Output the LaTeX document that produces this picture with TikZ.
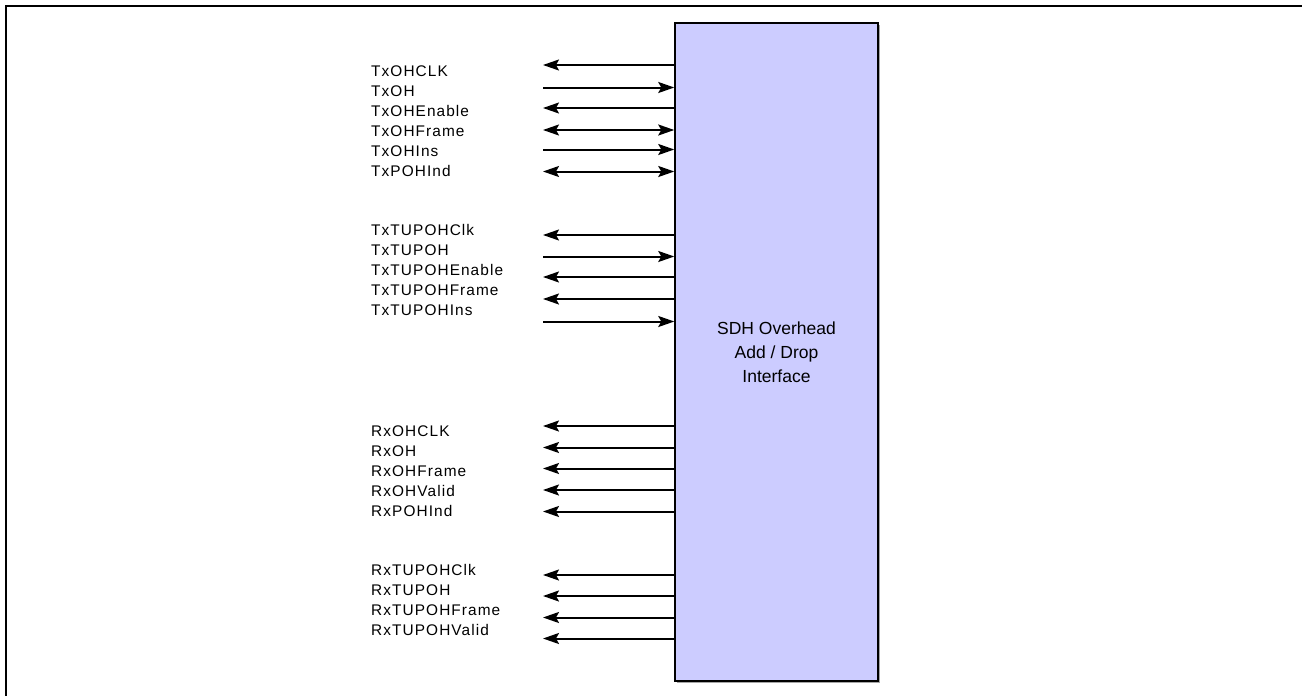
\documentclass[tikz,border=0pt]{standalone}
\usepackage{fontspec}
\setmainfont{Liberation Sans}
\newfontfamily\lblfont{Liberation Sans}[LetterSpace=7]
\newfontfamily\boxfont{Liberation Sans}
\usetikzlibrary{arrows.meta}
\definecolor{boxblue}{HTML}{CCCCFF}
\tikzset{
  sig/.style={font=\lblfont\fontsize{15.4}{18}\selectfont, anchor=base west, inner sep=0pt},
  wire/.style={line width=2pt, draw=black},
  tipin/.style={wire, -{Stealth[length=16pt,width=11pt,inset=3pt]}},
  tipout/.style={wire, {Stealth[length=16pt,width=11pt,inset=3pt]}-},
  tipboth/.style={wire, {Stealth[length=16pt,width=11pt,inset=3pt]}-{Stealth[length=16pt,width=11pt,inset=3pt]}},
  blockbox/.style={draw=black, line width=1.5pt, fill=boxblue, minimum width=203pt, minimum height=658pt, inner sep=0pt, align=center, font=\boxfont\fontsize{17.5}{24}\selectfont},
}
\begin{document}
\begin{tikzpicture}[x=1pt,y=-1pt]
\useasboundingbox (0,0) rectangle (1302,696);
% frame
\draw[line width=2.3pt] (6.2,700) -- (6.2,6.2) -- (1310,6.2);
% shadow
\fill[gray!70] (677,25) rectangle (880,683);
\node[blockbox] (blk) at (776.5,352) {SDH Overhead\\Add / Drop\\Interface};
\def\xl{543}
\foreach \nm/\txt/\ly/\ay/\st in {
  a1/TxOHCLK/70.7/65/tipout,
  a2/TxOH/90.7/87.5/tipin,
  a3/TxOHEnable/110.7/108/tipout,
  a4/TxOHFrame/130.7/130/tipboth,
  a5/TxOHIns/150.5/149.5/tipin,
  a6/TxPOHInd/170.5/171.5/tipboth,
  b1/TxTUPOHClk/230/235/tipout,
  b2/TxTUPOH/250/256.5/tipin,
  b3/TxTUPOHEnable/270/277/tipout,
  b4/TxTUPOHFrame/290/299/tipout,
  b5/TxTUPOHIns/309.5/321.5/tipin,
  c1/RxOHCLK/431/426/tipout,
  c2/RxOH/451/447.5/tipout,
  c3/RxOHFrame/470.5/468.5/tipout,
  c4/RxOHValid/490.5/490/tipout,
  c5/RxPOHInd/510.5/511.5/tipout,
  d1/RxTUPOHClk/570/575/tipout,
  d2/RxTUPOH/590/596/tipout,
  d3/RxTUPOHFrame/610/617.5/tipout,
  d4/RxTUPOHValid/630/638.5/tipout}{
  \node[sig] (l\nm) at (371,\ly+5.5) {\txt};
  \coordinate (e\nm) at (\xl,\ay);
  \coordinate (p\nm) at (blk.west |- 0,\ay);
  \draw[\st] (e\nm) -- (p\nm);
}
\end{tikzpicture}
\end{document}
